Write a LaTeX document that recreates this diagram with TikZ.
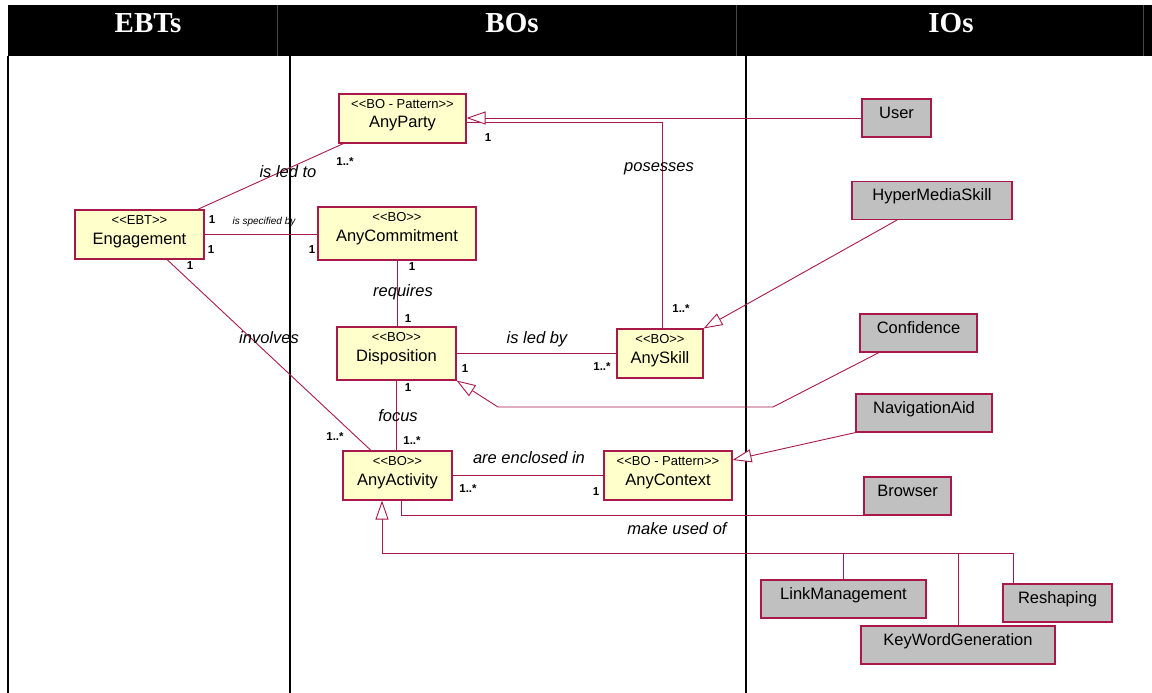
\documentclass[tikz,border=0pt]{standalone}
\usepackage{fontspec}
\setmainfont{Liberation Sans}
\newfontfamily\hdrfont{Liberation Serif}
\usetikzlibrary{arrows.meta}

\definecolor{crim}{RGB}{168,24,72}
\definecolor{boxyel}{RGB}{255,255,204}
\definecolor{boxgray}{RGB}{192,192,192}
\definecolor{sepgray}{RGB}{70,70,70}

% stereotype text, with the angle brackets kept apart from ligatures
\newcommand{\stype}[1]{<{}<#1>{}>}

\begin{document}
\begin{tikzpicture}[x=1pt,y=-1pt,
  cls/.style={draw=crim, line width=1.1pt, inner xsep=0pt, inner ysep=0pt,
    text height=34pt, text depth=15pt, font=\fontsize{16.5}{18}\selectfont},
  bo/.style={cls, fill=boxyel},
  tall/.style={text depth=19pt},
  io/.style={draw=crim, line width=1.1pt, fill=boxgray, inner sep=0pt,
    text height=19pt, text depth=19pt, font=\fontsize{16.5}{18}\selectfont},
  stereo/.style={font=\fontsize{13}{14}\selectfont, anchor=base, inner sep=0pt, yshift=-15.5pt},
  mult/.style={font=\fontsize{11.5}{12}\selectfont\bfseries, inner sep=0pt},
  role/.style={font=\fontsize{16.5}{18}\selectfont\itshape, inner sep=0pt},
  smallrole/.style={font=\fontsize{10}{11}\selectfont\itshape, inner sep=0pt},
  assoc/.style={draw=crim, line width=0.9pt},
  gen/.style={assoc, -{Triangle[length=19pt,width=13pt,fill=white]}},
  hdr/.style={text=white, font=\fontsize{29}{30}\selectfont\hdrfont\bfseries, anchor=base, inner sep=0pt},
  rule/.style={line width=2.2pt},
  hdrsep/.style={draw=sepgray, line width=0.8pt}
]
\useasboundingbox (0,0) rectangle (1152,693);

% table header
\fill[black] (8,5) rectangle (1152,56);
\draw[hdrsep] (277,5) -- (277,56);
\draw[hdrsep] (736,5) -- (736,56);
\draw[hdrsep] (1143,5) -- (1143,56);
\node[hdr] (h-ebt) at (148,33) {EBTs};
\node[hdr] (h-bo) at (512,33) {BOs};
\node[hdr] (h-io) at (951,33) {IOs};

% column rules
\draw[rule] (8,56) -- (8,693);
\draw[rule] (290,56) -- (290,693);
\draw[rule] (746,56) -- (746,693);

% business objects
\node[bo, minimum width=127pt, label={[stereo]north:\stype{BO - Pattern}}] (party) at (402.5,118.5) {AnyParty};
\node[bo, minimum width=129pt, label={[stereo]north:\stype{EBT}}] (eng) at (139.5,234.5) {Engagement};
\node[bo, tall, minimum width=158pt, label={[stereo]north:\stype{BO}}] (comm) at (397,233.5) {AnyCommitment};
\node[bo, tall, minimum width=119pt, label={[stereo]north:\stype{BO}}] (disp) at (396.5,353.5) {Disposition};
\node[bo, minimum width=86pt, label={[stereo]north:\stype{BO}}] (skill) at (660,353.5) {AnySkill};
\node[bo, minimum width=109pt, label={[stereo]north:\stype{BO}}] (act) at (397.5,475.5) {AnyActivity};
\node[bo, minimum width=128pt, label={[stereo]north:\stype{BO - Pattern}}] (ctx) at (668,475.5) {AnyContext};

% interface objects
\node[io, minimum width=69pt] (user) at (896.5,118) {User};
\node[io, minimum width=160pt] (hyp) at (932,200.5) {HyperMediaSkill};
\node[io, minimum width=117pt] (conf) at (918.5,333) {Confidence};
\node[io, minimum width=136pt] (nav) at (924,413) {NavigationAid};
\node[io, minimum width=87pt] (brw) at (907.5,496) {Browser};
\node[io, minimum width=165pt] (link) at (843.5,599) {LinkManagement};
\node[io, minimum width=109pt] (resh) at (1057.5,603) {Reshaping};
\node[io, minimum width=194pt] (key) at (958,645) {KeyWordGeneration};

% associations
\draw[assoc] ([xshift=-7pt]eng.north east) -- ([xshift=5pt]party.south west);
\draw[assoc] (eng.east) -- (eng.east -| comm.west);
\draw[assoc] ([xshift=27.5pt]eng.south) -- ([xshift=-26.5pt]act.north);
\draw[assoc] (comm.south) -- (comm.south |- disp.north);
\draw[assoc] (disp.south) -- (disp.south |- act.north);
\draw[assoc] (disp.east) -- (disp.east -| skill.west);
\draw[assoc] (act.east) -- (act.east -| ctx.west);
\draw[assoc] ([yshift=-3.5pt]party.east) -| ([xshift=2.5pt]skill.north);
\draw[assoc] ([xshift=3.5pt]act.south) |- (brw.south west);

% generalisations
\draw[gen] (user.west) -- (user.west -| party.east);
\draw[gen] ([xshift=-35pt]hyp.south) -- (skill.north east);
\coordinate (cbend) at (773,407);
\coordinate (cfoot) at (498,407);
\draw[gen] ([xshift=-39.5pt]conf.south) -- (cbend) -- (cfoot) -- (disp.south east);
\draw[gen] (nav.south west) -- ([yshift=15.5pt]ctx.east);
\coordinate (bus) at (382,553);
\draw[gen] (bus) -- (bus |- act.south);
\draw[assoc] (bus) -| ([xshift=-44.5pt]resh.north);
\draw[assoc] (link.north |- bus) -- (link.north);
\draw[assoc] (key.north |- bus) -- (key.north);

% role names
\node[role] (r-ledto) at (288,172) {is led to};
\node[smallrole] (r-spec) at (264,222) {is specified by};
\node[role] (r-req) at (403,292) {requires};
\node[role] (r-ledby) at (537,339) {is led by};
\node[role] (r-focus) at (398,416) {focus};
\node[role] (r-encl) at (529,458) {are enclosed in};
\node[role] (r-pos) at (659,169) {posesses};
\node[role] (r-inv) at (269,338) {involves};
\node[role] (r-use) at (677,529) {make used of};

% multiplicities
\node[mult] (m1) at (345,162) {1..*};
\node[mult] (m2) at (212,220) {1};
\node[mult] (m3) at (211,250) {1};
\node[mult] (m4) at (312,250) {1};
\node[mult] (m5) at (190,266) {1};
\node[mult] (m6) at (412,267) {1};
\node[mult] (m7) at (408,319) {1};
\node[mult] (m8) at (465,369) {1};
\node[mult] (m9) at (602,367) {1..*};
\node[mult] (m10) at (408,388) {1};
\node[mult] (m11) at (335,437) {1..*};
\node[mult] (m12) at (412,441) {1..*};
\node[mult] (m13) at (468,489) {1..*};
\node[mult] (m14) at (596,492) {1};
\node[mult] (m15) at (681,309) {1..*};
\node[mult] (m16) at (488,138) {1};
\end{tikzpicture}
\end{document}
